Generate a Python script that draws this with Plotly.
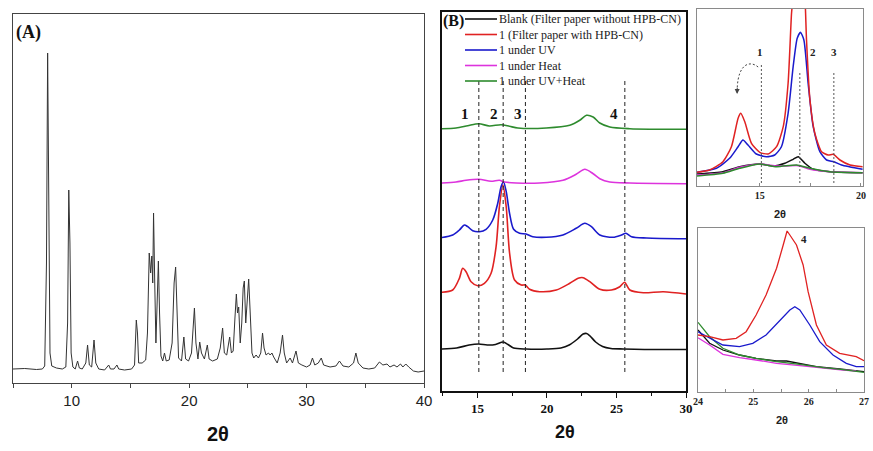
import plotly.graph_objects as go

# ---------------- DATA ----------------
# Panel A: powder pattern vertices (2theta, intensity a.u.)
a_x = [5.0, 6.0, 7.0, 7.5, 7.7, 7.85, 7.95, 8.05, 8.15, 8.3, 8.7, 9.2, 9.5, 9.65, 9.75, 9.85, 9.95, 10.1,
       10.3, 10.5, 10.65, 10.9, 11.2, 11.35, 11.5, 11.7, 11.9, 12.05, 12.3, 12.8, 13.15, 13.3, 13.6, 13.85,
       14.0, 14.5, 15.1, 15.35, 15.5, 15.6, 15.7, 16.0, 16.3, 16.45, 16.6, 16.72, 16.82, 16.9, 16.97, 17.07,
       17.17, 17.3, 17.38, 17.48, 17.6, 17.75, 17.9, 18.05, 18.3, 18.55, 18.72, 18.85, 18.95, 19.1, 19.35,
       19.55, 19.7, 19.95, 20.2, 20.35, 20.45, 20.58, 20.75, 20.9, 21.05, 21.3, 21.55, 21.7, 22.0, 22.4,
       22.65, 22.85, 23.0, 23.2, 23.45, 23.6, 23.75, 23.9, 24.02, 24.12, 24.22, 24.35, 24.48, 24.6, 24.7,
       24.82, 24.95, 25.07, 25.2, 25.35, 25.5, 25.7, 25.9, 26.1, 26.25, 26.38, 26.55, 26.75, 26.9, 27.05,
       27.2, 27.5, 27.75, 27.95, 28.1, 28.3, 28.6, 28.8, 29.1, 29.3, 29.6, 30.0, 30.3, 30.5, 30.7, 31.0,
       31.25, 31.45, 32.0, 32.5, 32.8, 33.1, 33.6, 34.0, 34.2, 34.4, 34.8, 35.3, 35.8, 36.2, 36.5, 36.85,
       37.1, 37.45, 37.7, 38.0, 38.2, 38.45, 38.7, 39.1, 39.5, 40.0]
a_y = [14, 14.5, 13.5, 14, 17, 120, 330, 200, 30, 17, 15, 14, 16, 60, 193, 140, 30, 16,
       14, 22, 15, 14, 20, 38, 18, 16, 43, 20, 14, 13, 18, 14, 14, 18,
       14, 13, 14, 18, 63, 50, 20, 20, 23, 50, 130, 110, 127, 100, 170, 100,
       40, 90, 122, 70, 27, 22, 30, 22, 23, 40, 100, 116, 80, 25, 22,
       46, 24, 22, 30, 60, 75, 40, 24, 41, 30, 24, 38, 24, 22, 24,
       35, 55, 30, 28, 46, 30, 32, 65, 89, 70, 76, 40, 60, 95, 102,
       60, 90, 104, 70, 30, 25, 28, 25, 30, 50, 35, 28, 30, 28, 30,
       26, 20, 30, 48, 30, 20, 25, 20, 32, 20, 18, 16, 18, 25, 18, 20,
       25, 18, 16, 17, 22, 17, 16, 20, 30, 20, 15, 14, 15, 21, 18, 19,
       16, 18, 16, 19, 16, 19, 16, 12, 11, 12]

# Panel B: stacked patterns (2theta, intensity above own baseline)
b_names = ["Blank (Filter paper without HPB-CN)", "1 (Filter paper with HPB-CN)",
           "1 under UV", "1 under Heat", "1 under UV+Heat"]
b_offsets = [42, 98, 153, 208, 263]

b_black_x = [12.4, 13.5, 14.4, 15.1, 15.7, 16.3, 16.85, 17.2, 17.6, 18.5, 20.0, 21.0, 21.6, 22.2, 22.6,
             22.85, 23.1, 23.5, 24.0, 24.6, 25.5, 27.0, 28.5, 30.0]
b_black_y = [0, 1, 4, 5, 4, 4.5, 7, 4.5, 1, 0, 0, 1, 4, 10, 15, 15.5, 13, 7, 2.5, 0.5, 0, -0.5, -0.5, -0.5]

b_red_x = [12.38, 13.22, 13.7, 13.94, 14.18, 14.54, 15.02, 15.5, 15.98, 16.34, 16.58, 16.83, 17.07, 17.31,
           17.67, 18.15, 18.44, 18.75, 19.47, 20.67, 21.64, 22.24, 22.6, 23.08, 23.8, 24.64, 25.24, 25.58,
           25.96, 26.93, 28.37, 30.0]
b_red_y = [0.7, 3, 14.7, 24.7, 21.3, 11.3, 7.3, 9.7, 19.7, 46.3, 86.3, 108, 86, 40,
           13, 8, 8, 3.7, 1.3, 3, 9.7, 14.7, 15.3, 11.3, 3.7, 3, 6.3, 10.7,
           3, 0.3, 1.3, -1]

b_blue_x = [12.38, 13.22, 13.7, 14.06, 14.3, 14.66, 15.14, 15.62, 16.1, 16.46, 16.7, 16.87, 17.07, 17.31,
            17.6, 18.03, 18.5, 18.98, 19.95, 21.15, 22.1, 22.72, 23.2, 23.8, 24.76, 25.36, 25.68, 26.08,
            27.17, 30.0]
b_blue_y = [0.3, 3, 8, 13, 11.3, 7.3, 6.3, 8.7, 18, 34.7, 51.3, 56.3, 46.3, 24.7,
            8.7, 4.7, 4, 1.3, 0.7, 3, 9.7, 14.7, 11.3, 3, 0.7, 3, 4.7, 1.3,
            0, -0.7]

b_mag_x = [12.38, 13.46, 14.18, 15.1, 15.98, 16.58, 16.94, 17.79, 19.47, 21.15, 22.1, 22.72, 23.32, 23.8,
           24.52, 25.96, 30.0]
b_mag_y = [0, 1, 2.7, 3.7, 1.7, 2.7, 1, 0, 0, 2.7, 8.7, 13.7, 9.3, 4.3, 1, 0, -0.7]

b_green_x = [12.38, 13.46, 14.3, 15.1, 15.86, 16.7, 17.31, 17.91, 19.95, 21.64, 22.36, 22.84, 23.32, 23.8,
             24.52, 25.96, 30.0]
b_green_y = [-0.7, 0, 2.3, 4.3, 2, 3.3, 1.7, 0, 0, 2.7, 7.7, 12.7, 11, 5, 1, -0.7, -1.3]

b_ref_lines = [15.1, 16.85, 18.45, 25.6]
b_ref_labels = ["1", "2", "3", "4"]
b_label_x = [14.1, 16.2, 17.95, 24.8]

# Panel C: zoom 12-20
c_red_x = [11.9, 12.52, 13.18, 13.6, 13.93, 14.06, 14.26, 14.59, 15.0, 15.41, 15.83, 16.16, 16.4, 16.57,
           16.65, 16.95, 17.23, 17.31, 17.48, 17.72, 18.05, 18.38, 18.63, 18.96, 19.46, 20.08]
c_red_y = [13.7, 16, 24.3, 39.3, 67.7, 72.7, 64.3, 42.7, 33.7, 32, 39.3, 59.3, 102.7, 172.7,
           190, 260, 190, 146, 86, 52.7, 34.3, 31, 31.7, 26, 21, 19.3]
c_blue_x = [11.9, 12.86, 13.51, 13.93, 14.17, 14.42, 14.83, 15.33, 15.74, 16.07, 16.4, 16.65, 16.85,
            17.01, 17.18, 17.39, 17.64, 17.97, 18.3, 18.66, 19.04, 20.08]
c_blue_y = [13.7, 17.7, 27.7, 39.3, 46, 41, 32, 29.3, 31, 39.3, 72.7, 119.3, 147.7,
            153.7, 146, 102.7, 59.3, 34.3, 26, 24.3, 21, 16.7]
c_black_x = [11.9, 13.18, 14.01, 15.0, 15.66, 16.24, 16.65, 16.9, 17.23, 17.64, 18.47, 20.08]
c_black_y = [12, 14.3, 19.3, 22, 20, 22.7, 26.7, 29.3, 22.7, 16.7, 14.3, 13.3]
c_mag_x = [11.9, 13.18, 14.01, 15.0, 15.83, 16.32, 16.9, 17.48, 18.47, 20.08]
c_mag_y = [11, 13.3, 18.7, 22, 20, 20, 20.3, 16.7, 14.3, 13.3]
c_green_x = [11.9, 13.18, 14.01, 15.0, 15.83, 16.82, 17.48, 18.47, 20.08]
c_green_y = [10, 12.7, 17.7, 22, 19.3, 21, 17.7, 14.3, 13.3]
c_ref_lines = [15.08, 16.98, 18.66]
c_ref_tops = [121, 114, 114]
c_labels = ["1", "2", "3"]
c_label_x = [15.0, 17.62, 18.66]

# Panel D: zoom 24-27
d_red_x = [24.0, 24.21, 24.45, 24.69, 24.87, 25.05, 25.23, 25.42, 25.54, 25.61, 25.66, 25.78, 25.9, 25.99,
           26.14, 26.32, 26.56, 26.86, 27.0]
d_red_y = [57, 55.3, 52, 53.7, 60.3, 77, 97, 123.7, 147, 161, 157, 147, 127, 100.3, 67, 47, 38.7, 35.3, 31.3]
d_blue_x = [24.0, 24.21, 24.45, 24.75, 24.99, 25.23, 25.48, 25.66, 25.75, 25.84, 26.02, 26.2, 26.44, 26.68,
            26.86, 27.0]
d_blue_y = [60.3, 53.7, 47, 45.3, 48.7, 57, 72, 82, 85.3, 82, 67, 50.3, 37, 28.7, 25.3, 25.3]
d_black_x = [24.0, 24.21, 24.45, 24.75, 25.05, 25.42, 25.6, 25.84, 26.14, 26.56, 27.0]
d_black_y = [62, 48.7, 42, 37, 33.7, 31, 31, 28.7, 25.3, 23, 20.3]
d_green_x = [24.0, 24.21, 24.45, 24.75, 25.05, 25.42, 25.84, 26.26, 26.62, 27.0]
d_green_y = [69.7, 55.3, 43.7, 37, 33.7, 30.3, 27.7, 24.3, 22.3, 19.7]
d_mag_x = [24.0, 24.21, 24.45, 24.75, 25.05, 25.42, 25.84, 26.26, 26.62, 26.86]
d_mag_y = [54.3, 47, 37.7, 34.3, 32, 28.7, 26.3, 23.7, 22, 21]

# ---------------- STYLE ----------------
W, H = 873, 451
BLACK, RED, BLUE, MAG, GREEN = "#111111", "#e02222", "#1a1acc", "#dd33dd", "#2e8b2e"
B_COLORS = [BLACK, RED, BLUE, MAG, GREEN]
SERIF = "Liberation Serif"
SANS = "Liberation Sans"


def dx(p):
    return p / W


def dy(p):
    return 1 - p / H


fig = go.Figure()

# Panel A
fig.add_trace(go.Scatter(x=a_x, y=a_y, mode="lines", line=dict(color="#333333", width=1),
                         xaxis="x", yaxis="y", showlegend=False))

# Panel B
b_series = [(b_black_x, b_black_y), (b_red_x, b_red_y), (b_blue_x, b_blue_y),
            (b_mag_x, b_mag_y), (b_green_x, b_green_y)]
for (xs, ys), col, name, off in zip(b_series, B_COLORS, b_names, b_offsets):
    fig.add_trace(go.Scatter(x=xs, y=[v + off for v in ys], mode="lines", name=name, showlegend=False,
                             line=dict(color=col, width=1.6, shape="spline", smoothing=0.8),
                             xaxis="x2", yaxis="y2"))
for xv in b_ref_lines:
    fig.add_trace(go.Scatter(x=[xv, xv], y=[19, 311], mode="lines", showlegend=False,
                             line=dict(color="#222222", width=1, dash="4px,3px"),
                             xaxis="x2", yaxis="y2", hoverinfo="skip"))

# Panel C
for xs, ys, col in [(c_black_x, c_black_y, BLACK), (c_mag_x, c_mag_y, MAG), (c_green_x, c_green_y, GREEN),
                    (c_blue_x, c_blue_y, BLUE), (c_red_x, c_red_y, RED)]:
    fig.add_trace(go.Scatter(x=xs, y=ys, mode="lines", showlegend=False,
                             line=dict(color=col, width=1.5, shape="spline", smoothing=0.6),
                             xaxis="x3", yaxis="y3"))
for xv, top in zip(c_ref_lines, c_ref_tops):
    fig.add_trace(go.Scatter(x=[xv, xv], y=[3, top], mode="lines", showlegend=False,
                             line=dict(color="#555555", width=1, dash="2px,2px"),
                             xaxis="x3", yaxis="y3", hoverinfo="skip"))

# Panel D
for xs, ys, col in [(d_black_x, d_black_y, BLACK), (d_mag_x, d_mag_y, MAG), (d_green_x, d_green_y, GREEN),
                    (d_blue_x, d_blue_y, BLUE), (d_red_x, d_red_y, RED)]:
    fig.add_trace(go.Scatter(x=xs, y=ys, mode="lines", showlegend=False,
                             line=dict(color=col, width=1.3),
                             xaxis="x4", yaxis="y4"))

frameA = dict(showline=True, linecolor="#444444", linewidth=1, mirror=True, showgrid=False, zeroline=False,
              automargin=False)
frameB = dict(showline=True, linecolor="#111111", linewidth=1.5, mirror=True, showgrid=False, zeroline=False,
              automargin=False)
frameC = dict(showline=True, linecolor="#8a8a8a", linewidth=1, mirror=True, showgrid=False, zeroline=False,
              automargin=False)

fig.update_layout(
    width=W, height=H, margin=dict(l=0, r=0, t=0, b=0, autoexpand=False),
    paper_bgcolor="white", plot_bgcolor="white", showlegend=False,
    xaxis=dict(domain=[dx(13), dx(424)], range=[5, 40], tickvals=[10, 20, 30, 40],
               ticks="outside", ticklen=4, tickcolor="#444444",
               minor=dict(tickvals=[5, 15, 25, 35], ticks="outside", ticklen=4, tickcolor="#444444"),
               tickfont=dict(family=SANS, size=15, color="#222222"), anchor="y", **frameA),
    yaxis=dict(domain=[dy(383), dy(14)], range=[0, 369], showticklabels=False, ticks="",
               anchor="x", **frameA),
    xaxis2=dict(domain=[dx(442), dx(686)], range=[12.45, 30], tickvals=[15, 20, 25, 30],
                ticks="outside", ticklen=5, tickcolor="#111111", tickwidth=1.2,
                minor=dict(tickvals=[12.5, 17.5, 22.5, 27.5], ticks="outside", ticklen=3, tickcolor="#111111"),
                tickfont=dict(family=SERIF, size=13, color="#111111", weight="bold"), anchor="y2", **frameB),
    yaxis2=dict(domain=[dy(391), dy(12)], range=[0, 379], showticklabels=False, ticks="",
                anchor="x2", **frameB),
    xaxis3=dict(domain=[dx(697), dx(863)], range=[11.9, 20.1], tickvals=[15, 20],
                ticks="inside", ticklen=3, tickcolor="#8a8a8a",
                minor=dict(tickvals=[12.5, 17.5], ticks="inside", ticklen=3, tickcolor="#8a8a8a"),
                tickfont=dict(family=SERIF, size=10, color="#222222", weight="bold"), anchor="y3", **frameC),
    yaxis3=dict(domain=[dy(186), dy(9)], range=[0, 177], showticklabels=False, ticks="",
                anchor="x3", **frameC),
    xaxis4=dict(domain=[dx(698), dx(864)], range=[24, 27], tickvals=[24, 25, 26, 27],
                ticks="inside", ticklen=3, tickcolor="#8a8a8a",
                minor=dict(tickvals=[24.5, 25.5, 26.5], ticks="inside", ticklen=3, tickcolor="#8a8a8a"),
                tickfont=dict(family=SERIF, size=10, color="#222222", weight="bold"), anchor="y4", **frameC),
    yaxis4=dict(domain=[dy(392), dy(228)], range=[0, 164], showticklabels=False, ticks="",
                anchor="x4", **frameC),
)


def txt(text, x, y, size, family, color="#111111", xanchor="center", xref="paper", yref="paper"):
    return dict(text=text, x=x, y=y, xref=xref, yref=yref, showarrow=False,
                xanchor=xanchor, yanchor="middle", font=dict(family=family, size=size, color=color))


ann = []
# axis titles
ann.append(txt("<b>2θ</b>", dx(218), dy(434), 20, SANS))
ann.append(txt("<b>2θ</b>", dx(565), dy(432), 18, SANS))
ann.append(txt("<b>2θ</b>", dx(780), dy(214), 11, SANS, "#222222"))
ann.append(txt("<b>2θ</b>", dx(782), dy(420), 11, SANS, "#222222"))
# panel tags
ann.append(txt("<b>(A)</b>", dx(14), dy(33), 18, SERIF, xanchor="left"))
ann.append(txt("<b>(B)</b>", dx(441), dy(21), 16, SERIF, xanchor="left"))
# legend of panel B (key drawn as short line samples + text)
leg_rows = [19, 34.5, 50, 65.5, 81]
shapes = []
for name, col, ry in zip(b_names, B_COLORS, leg_rows):
    shapes.append(dict(type="line", xref="paper", yref="paper", x0=dx(465), x1=dx(497), y0=dy(ry), y1=dy(ry),
                       line=dict(color=col, width=1.6)))
    ann.append(txt(name, dx(497), dy(ry), 12, SERIF, "#222222", xanchor="left"))
# peak labels B
for lx, lt in zip(b_label_x, b_ref_labels):
    ann.append(txt("<b>" + lt + "</b>", lx, 277, 15, SERIF, xref="x2", yref="y2"))
# peak labels C
for lx, lt in zip(c_label_x, c_labels):
    ann.append(txt("<b>" + lt + "</b>", lx, 134, 11, SERIF, "#222222", xref="x3", yref="y3"))
# arrowhead in C
ann.append(dict(text="", x=13.88, y=92, ax=13.89, ay=100, xref="x3", yref="y3", axref="x3", ayref="y3",
                showarrow=True, arrowhead=2, arrowsize=1, arrowwidth=1, arrowcolor="#444444"))
# peak label D
ann.append(txt("<b>4</b>", 25.92, 153, 11, SERIF, "#222222", xref="x4", yref="y4"))

shapes.append(dict(type="path", path="M 14.92,119 C 14.5,126 13.95,122 13.89,99", xref="x3", yref="y3",
                   line=dict(color="#444444", width=1, dash="2px,2px")))
fig.update_layout(annotations=ann, shapes=shapes)

fig.write_html("out.html")
